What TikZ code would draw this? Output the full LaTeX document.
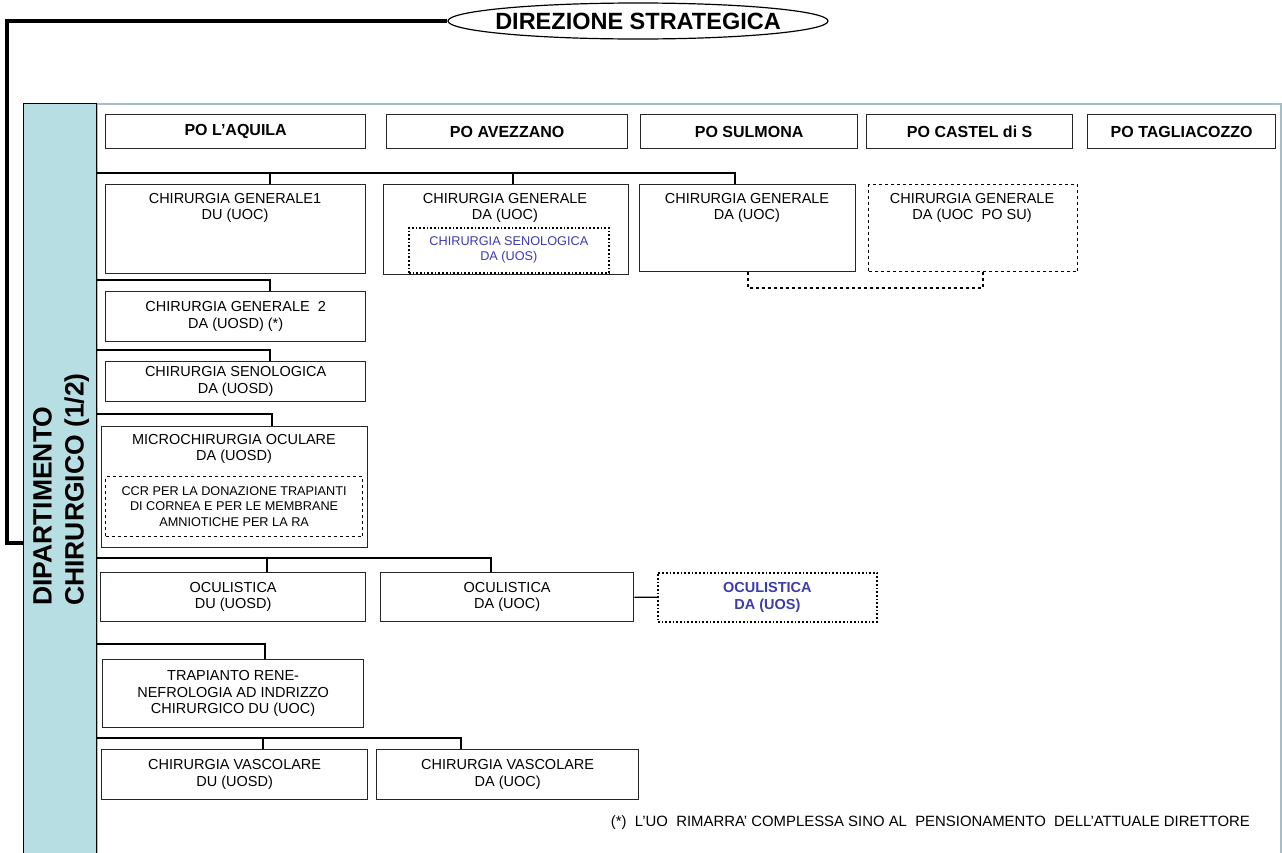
\documentclass[tikz,border=0pt]{standalone}
\usepackage{fontspec}
\setmainfont{Liberation Sans}
\usetikzlibrary{shapes.geometric}
\definecolor{bandblue}{RGB}{183,222,226}
\definecolor{panelgray}{RGB}{165,190,193}
\definecolor{uosblue}{RGB}{60,60,175}
\tikzset{
  unit/.style={draw=black!85, line width=1.3pt, anchor=north west, inner sep=0pt, align=center, font=\fontsize{14.5}{16.5}\selectfont},
  head/.style={unit, font=\fontsize{16}{18}\selectfont\bfseries},
  lbl/.style={align=center, font=\fontsize{14.5}{16.5}\selectfont, inner sep=0pt, anchor=north},
  small/.style={align=center, font=\fontsize{12.7}{15}\selectfont, inner sep=0pt},
  tree/.style={line width=2pt},
  dotbox/.style={draw=black, line width=1.7pt, dotted, anchor=north west, inner sep=0pt, align=center},
  dashbox/.style={draw=black, line width=1.2pt, dashed, anchor=north west, inner sep=0pt, align=center},
}
\begin{document}
\begin{tikzpicture}[x=1pt,y=-1pt]
\clip (0,0) rectangle (1282,852);
\fill[white] (0,0) rectangle (1282,852);

% panel and band
\node[draw=panelgray, line width=2pt, anchor=north west, minimum width=1184, minimum height=780, inner sep=0pt] (panel) at (96,103) {};
\node[draw=black, line width=0.8pt, fill=bandblue, anchor=north west, minimum width=73, minimum height=780, inner sep=0pt] (band) at (23,103) {};
\node[rotate=90, anchor=west, align=left, inner sep=0pt, font=\fontsize{26.5}{32}\selectfont\bfseries] (dep) at (61,606) {DIPARTIMENTO\\CHIRURGICO (1/2)};

% direzione
\node[ellipse, draw, line width=1.2pt, minimum width=380, minimum height=36, inner sep=0pt, fill=white] (dse) at (638,21) {};
\node[inner sep=0pt, font=\fontsize{23.5}{26}\selectfont\bfseries] (ds) at (dse.center) {DIREZIONE STRATEGICA};
\coordinate (tl) at (7,21);
\coordinate (tb) at (7,543);
\draw[line width=4pt] (dse.west) -- (tl) -- (tb) -- (tb -| band.west);

% headers
\node[head, minimum width=260, minimum height=34] (h1) at (105,114) {PO L’AQUILA};
\node[head, minimum width=241, minimum height=34] (h2) at (386,114) {PO AVEZZANO};
\node[head, minimum width=217, minimum height=34] (h3) at (640,114) {PO SULMONA};
\node[head, minimum width=206, minimum height=34] (h4) at (866,114) {PO CASTEL di S};
\node[head, minimum width=188, minimum height=34] (h5) at (1087,114) {PO TAGLIACOZZO};

% row 1
\node[unit, minimum width=260, minimum height=89] (caq) at (105,184) {};
\node[lbl] (caqt) at (235,193) {CHIRURGIA GENERALE1\\DU (UOC)};
\node[unit, minimum width=245, minimum height=90] (cav) at (383,184) {};
\node[lbl] (cavt) at (505,193) {CHIRURGIA GENERALE\\DA (UOC)};
\node[dotbox, minimum width=200, minimum height=45, text=uosblue, font=\fontsize{12.7}{15}\selectfont] (senav) at (408,227) {CHIRURGIA SENOLOGICA\\DA (UOS)};
\node[unit, minimum width=216, minimum height=87] (csu) at (639,184) {};
\node[lbl] (csut) at (747,193) {CHIRURGIA GENERALE\\DA (UOC)};
\node[dashbox, minimum width=209, minimum height=87] (ccs) at (868,184) {};
\node[lbl] (ccst) at (972,193) {CHIRURGIA GENERALE\\DA (UOC\ \ PO SU)};

\coordinate (r1a) at (96,173);
\coordinate (r1b) at (270,173);
\coordinate (r1c) at (513,173);
\coordinate (r1d) at (735,173);
\draw[tree] (r1a) -- (r1d) -- (r1d |- csu.north);
\draw[tree] (r1b) -- (r1b |- caq.north);
\draw[tree] (r1c) -- (r1c |- cav.north);

\coordinate (dd1) at (748,288);
\coordinate (dd2) at (983,288);
\draw[line width=1.2pt, dashed] (dd1 |- csu.south) -- (dd1) -- (dd2) -- (dd2 |- ccs.south);

% chirurgia generale 2
\node[unit, minimum width=260, minimum height=50] (cg2) at (105,291) {CHIRURGIA GENERALE~~2\\DA (UOSD) (*)};
\coordinate (r2a) at (96,280);
\coordinate (r2b) at (270,280);
\draw[tree] (r2a) -- (r2b) -- (r2b |- cg2.north);

% chirurgia senologica
\node[unit, minimum width=260, minimum height=40] (cse) at (105,361) {CHIRURGIA SENOLOGICA\\DA (UOSD)};
\coordinate (r3a) at (96,350);
\coordinate (r3b) at (270,350);
\draw[tree] (r3a) -- (r3b) -- (r3b |- cse.north);

% microchirurgia
\node[unit, minimum width=266, minimum height=121] (cmo) at (101,426) {};
\node[lbl] (cmot) at (234,434) {MICROCHIRURGIA OCULARE\\DA (UOSD)};
\node[dashbox, minimum width=257, minimum height=60, font=\fontsize{12.7}{15.5}\selectfont] (ccr) at (105,476) {CCR PER LA DONAZIONE TRAPIANTI\\DI CORNEA E PER LE MEMBRANE\\AMNIOTICHE PER LA RA};
\coordinate (r4a) at (96,414);
\coordinate (r4b) at (272,414);
\draw[tree] (r4a) -- (r4b) -- (r4b |- cmo.north);

% oculistica
\node[unit, minimum width=265, minimum height=49] (cou1) at (100,572) {OCULISTICA\\DU (UOSD)};
\node[unit, minimum width=253, minimum height=49] (cou2) at (380,572) {OCULISTICA\\DA (UOC)};
\node[dotbox, minimum width=219, minimum height=49, text=uosblue, font=\fontsize{14.5}{16.5}\selectfont\bfseries] (cou3) at (657,572) {OCULISTICA\\DA (UOS)};
\coordinate (r5a) at (96,558);
\coordinate (r5b) at (267,558);
\coordinate (r5c) at (491,558);
\draw[tree] (r5a) -- (r5c) -- (r5c |- cou2.north);
\draw[tree] (r5b) -- (r5b |- cou1.north);
\draw[line width=1.3pt] (cou2.east) -- (cou3.west);

% trapianto
\node[unit, minimum width=261, minimum height=68] (ctr) at (102,659) {TRAPIANTO RENE-\\NEFROLOGIA AD INDRIZZO\\CHIRURGICO DU (UOC)};
\coordinate (r6a) at (96,644);
\coordinate (r6b) at (265,644);
\draw[tree] (r6a) -- (r6b) -- (r6b |- ctr.north);

% vascolare
\node[unit, minimum width=266, minimum height=50] (cv1) at (101,749) {CHIRURGIA VASCOLARE\\DU (UOSD)};
\node[unit, minimum width=262, minimum height=50] (cv2) at (376,749) {CHIRURGIA VASCOLARE\\DA (UOC)};
\coordinate (r7a) at (96,738);
\coordinate (r7b) at (263,738);
\coordinate (r7c) at (461,738);
\draw[tree] (r7a) -- (r7c) -- (r7c |- cv2.north);
\draw[tree] (r7b) -- (r7b |- cv1.north);

% footnote
\node[anchor=east, inner sep=0pt, font=\fontsize{14.9}{17}\selectfont] (note) at (1250,823) {(*)\ \ L’UO\ \ RIMARRA’ COMPLESSA SINO AL\ \ PENSIONAMENTO\ \ DELL’ATTUALE DIRETTORE};
\end{tikzpicture}
\end{document}
